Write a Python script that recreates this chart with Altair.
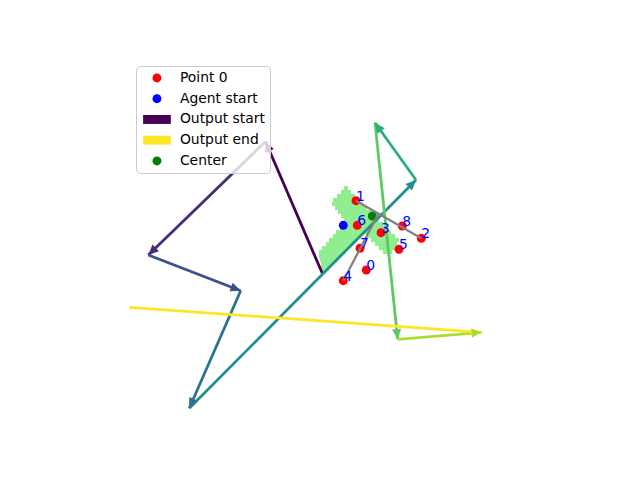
import math
import altair as alt
import pandas as pd

# ---------------- data (image-style coordinates: y grows downward) -------------
point_labels = ["0", "1", "2", "3", "4", "5", "6", "7", "8"]
point_x = [366.3, 356.0, 421.3, 381.0, 343.3, 399.0, 357.3, 360.0, 402.3]
point_y = [270.0, 200.7, 238.3, 232.7, 280.7, 249.3, 225.3, 248.3, 226.0]

agent_x = [343.3]
agent_y = [225.3]

center_x = [372.3]
center_y = [216.0]

# output path (vertices in order)
path_x = [322.3, 265.5, 148.3, 240.7, 189.3, 416.0, 375.0, 397.7, 481.7, 129.3]
path_y = [273.3, 141.5, 255.0, 290.7, 408.3, 180.0, 122.7, 339.3, 332.3, 307.3]
seg_colors = ["#440154", "#472c7a", "#3b528b", "#2c728e", "#21918c",
              "#28ae80", "#5ec962", "#addc30", "#fde725"]
seg_head = [True, True, True, True, True, True, True, True, False]

# gray axis lines
gray_x0 = [356.0, 343.3]
gray_y0 = [200.7, 280.7]
gray_x1 = [421.3, 378.5]
gray_y1 = [238.3, 213.5]

# light-green pixelated region: one run per entry (row top, left, right), rows 4 units tall
patch_top = [186, 190, 194, 198, 202, 206, 210, 214, 218, 222, 226, 230,
             234, 234, 238, 238, 242, 242, 246, 246, 250, 250,
             254, 258, 262, 266, 270]
patch_left = [344, 341, 337, 333, 332, 335, 338, 341, 344, 343, 340, 336,
              333, 367, 329, 371, 326, 375, 322, 379, 319, 383,
              319, 320, 321, 321, 322]
patch_right = [348, 351, 355, 359, 363, 367, 371, 375, 379, 383, 387, 391,
               361, 395, 357, 399, 353, 397, 349, 396, 345, 392,
               341, 337, 333, 329, 325]
patch_h = 4

legend_names = ["Point 0", "Agent start", "Output start", "Output end", "Center"]
legend_colors = ["red", "blue", "#440154", "#fde725", "green"]

# ---------------- tables ----------------
patch_df = pd.DataFrame({
    "x": patch_left, "x2": patch_right,
    "y": patch_top, "y2": [t + patch_h for t in patch_top],
})

seg_rows = []
for i in range(len(path_x) - 1):
    x0, y0, x1, y1 = path_x[i], path_y[i], path_x[i + 1], path_y[i + 1]
    ang = math.degrees(math.atan2(x1 - x0, -(y1 - y0))) % 360
    seg_rows.append({"x": x0, "y": y0, "x2": x1, "y2": y1,
                     "color": seg_colors[i], "head": seg_head[i], "angle": ang})
seg_df = pd.DataFrame(seg_rows)
head_df = seg_df[seg_df["head"]].copy()

gray_df = pd.DataFrame({"x": gray_x0, "y": gray_y0, "x2": gray_x1, "y2": gray_y1})

pts_df = pd.concat([
    pd.DataFrame({"x": point_x, "y": point_y, "cat": "Point 0"}),
    pd.DataFrame({"x": agent_x, "y": agent_y, "cat": "Agent start"}),
    pd.DataFrame({"x": center_x, "y": center_y, "cat": "Center"}),
], ignore_index=True)

lab_df = pd.DataFrame({"x": point_x, "y": point_y, "label": point_labels})

# ---------------- scales ----------------
xs = alt.Scale(domain=[80, 576], nice=False, zero=False)
ys = alt.Scale(domain=[57, 427], nice=False, zero=False, reverse=True)


def X(f="x"):
    return alt.X(f"{f}:Q", scale=xs, axis=None)


def Y(f="y"):
    return alt.Y(f"{f}:Q", scale=ys, axis=None)


patch = alt.Chart(patch_df).mark_rect(color="#90ee90", strokeWidth=0).encode(
    x=X(), x2="x2:Q", y=Y(), y2="y2:Q")

segs = alt.Chart(seg_df).mark_rule(strokeWidth=2.8).encode(
    x=X(), y=Y(), x2="x2:Q", y2="y2:Q", color=alt.Color("color:N", scale=None))

heads = alt.Chart(head_df).transform_calculate(hx="datum.x2", hy="datum.y2").mark_point(
    shape="M0,0L-0.45,1L0.45,1Z", size=420, filled=True, opacity=1, strokeWidth=0
).encode(x=X("hx"), y=Y("hy"), color=alt.Color("color:N", scale=None),
         angle=alt.Angle("angle:Q", scale=None))

rect_path = "M-3.1,-1H3.1V1H-3.1Z"
points = alt.Chart(pts_df).mark_point(filled=True, size=80, opacity=1, strokeWidth=0).encode(
    x=X(), y=Y(),
    color=alt.Color("cat:N", scale=alt.Scale(domain=legend_names, range=legend_colors),
                    legend=alt.Legend(
                        title=None, orient="none", legendX=56, legendY=9,
                        padding=5, fillColor="rgba(255,255,255,0.8)",
                        strokeColor="#cccccc", cornerRadius=4,
                        labelFont="DejaVu Sans", labelFontSize=13.9, labelColor="black",
                        labelOffset=16, symbolOffset=9, rowPadding=5.75,
                        symbolSize=80, symbolStrokeWidth=0, symbolOpacity=1)),
    shape=alt.Shape("cat:N", scale=alt.Scale(
        domain=legend_names, range=["circle", "circle", rect_path, rect_path, "circle"])),
)

gray = alt.Chart(gray_df).mark_rule(color="gray", strokeWidth=2.2).encode(
    x=X(), y=Y(), x2="x2:Q", y2="y2:Q")

labels = alt.Chart(lab_df).mark_text(
    align="left", baseline="alphabetic", font="DejaVu Sans", fontSize=13.9, color="blue"
).encode(x=X(), y=Y(), text="label:N")

chart = alt.layer(patch, segs, heads, points, gray, labels).properties(
    width=496, height=370,
    background="white",
    autosize=alt.AutoSizeParams(type="none"),
    padding={"left": 80, "top": 57, "right": 64, "bottom": 53},
).configure_view(stroke="transparent", strokeWidth=0)

chart.save("out.html", embed_options={"renderer": "svg", "actions": False})
